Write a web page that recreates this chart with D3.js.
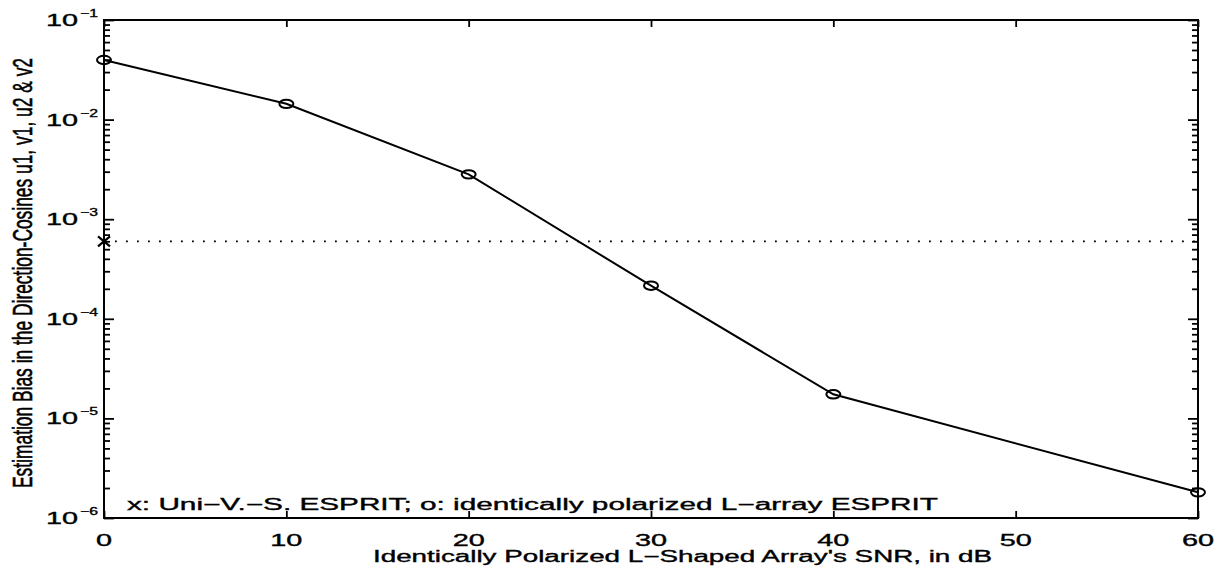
<!DOCTYPE html>
<html>
<head>
<meta charset="utf-8">
<script src="https://cdn.jsdelivr.net/npm/d3@7"></script>
<style>
  html, body { margin: 0; padding: 0; background: #fff; }
  svg { display: block; }
  text { font-family: "Liberation Sans", Arial, Helvetica, sans-serif; fill: #000; stroke: #000; stroke-width: 0.35; }
</style>
</head>
<body>
<svg id="chart" width="1219" height="571"></svg>
<script>
// ---- data ----
const snrDb = [0, 10, 20, 30, 40, 60];
const biasLArray = [0.0397, 0.0144, 0.00282, 2.15e-4, 1.745e-5, 1.81e-6];
const biasUniVS = 6.0e-4;            // x marker + dotted reference
const xTicks = [0, 10, 20, 30, 40, 50, 60];
const yDecades = [1e-6, 1e-5, 1e-4, 1e-3, 1e-2, 1e-1];
const yExponents = ["−6", "−5", "−4", "−3", "−2", "−1"];
const legendText = "x: Uni−V.−S. ESPRIT; o: identically polarized L−array ESPRIT";
const xLabel = "Identically Polarized L−Shaped Array's SNR, in dB";
const yLabel = "Estimation Bias in the Direction-Cosines u1, v1, u2 & v2";

// ---- layout ----
const L = 104, R = 1198, T = 20, B = 518;
const SX = 1.8; // horizontal stretch of the scanned figure

const svg = d3.select("#chart");
const x = d3.scaleLinear().domain([0, 60]).range([L, R]);
const y = d3.scaleLog().domain([1e-6, 1e-1]).range([B, T]);

// minor ticks
const yMinor = [];
for (let k = -6; k < -1; k++) {
  for (let m = 2; m <= 9; m++) yMinor.push(m * Math.pow(10, k));
}

// ---- axes (ticks inward) ----
function styleAxis(g) {
  g.select(".domain").remove();
  g.selectAll(".tick line").attr("stroke", "#000").attr("stroke-width", 1.8);
  g.selectAll(".tick text").remove();
}
svg.append("g").attr("transform", `translate(${L},0)`)
  .call(d3.axisLeft(y).tickValues(yDecades).tickSize(-10).tickFormat("")).call(styleAxis);
svg.append("g").attr("transform", `translate(${L},0)`)
  .call(d3.axisLeft(y).tickValues(yMinor).tickSize(-6).tickFormat("")).call(styleAxis);
svg.append("g").attr("transform", `translate(${R},0)`)
  .call(d3.axisRight(y).tickValues(yDecades).tickSize(-10).tickFormat("")).call(styleAxis);
svg.append("g").attr("transform", `translate(${R},0)`)
  .call(d3.axisRight(y).tickValues(yMinor).tickSize(-6).tickFormat("")).call(styleAxis);
svg.append("g").attr("transform", `translate(0,${B})`)
  .call(d3.axisBottom(x).tickValues(xTicks).tickSize(-7).tickFormat("")).call(styleAxis);
svg.append("g").attr("transform", `translate(0,${T})`)
  .call(d3.axisTop(x).tickValues(xTicks).tickSize(-7).tickFormat("")).call(styleAxis);

// frame
svg.append("rect").attr("x", L).attr("y", T).attr("width", R - L).attr("height", B - T)
  .attr("fill", "none").attr("stroke", "#000").attr("stroke-width", 2);

// ---- y tick labels 10^k ----
yDecades.forEach((v, i) => {
  const yy = y(v);
  svg.append("text").attr("text-anchor", "end").attr("font-size", 16)
    .attr("transform", `translate(78,${yy + 6}) scale(${SX},1)`).text("10");
  svg.append("text").attr("text-anchor", "start").attr("font-size", 10.5)
    .attr("transform", `translate(80,${yy - 3}) scale(1.5,1)`).text(yExponents[i]);
});

// ---- x tick labels ----
xTicks.forEach(v => {
  svg.append("text").attr("text-anchor", "middle").attr("font-size", 16)
    .attr("transform", `translate(${x(v)},546) scale(${SX},1)`).text(v);
});

// ---- axis labels ----
svg.append("text").attr("font-size", 16)
  .attr("x", 373).attr("y", 562)
  .attr("textLength", 619).attr("lengthAdjust", "spacingAndGlyphs")
  .text(xLabel);

svg.append("text").attr("text-anchor", "middle").attr("font-size", 16)
  .attr("transform", `translate(32,273) scale(1.7,1) rotate(-90)`)
  .attr("textLength", 430).attr("lengthAdjust", "spacingAndGlyphs")
  .text(yLabel);

// ---- legend text ----
svg.append("text").attr("font-size", 16)
  .attr("x", 127).attr("y", 510)
  .attr("textLength", 811).attr("lengthAdjust", "spacingAndGlyphs")
  .text(legendText);

// ---- dotted reference line ----
svg.append("line")
  .attr("x1", x(0)).attr("x2", x(60))
  .attr("y1", y(biasUniVS)).attr("y2", y(biasUniVS))
  .attr("stroke", "#000").attr("stroke-width", 1.8)
  .attr("stroke-dasharray", "1.8,9.2");

// x marker
const mx = x(0), my = y(biasUniVS);
svg.append("path")
  .attr("d", `M${mx - 6},${my - 5}L${mx + 6},${my + 5}M${mx - 6},${my + 5}L${mx + 6},${my - 5}`)
  .attr("stroke", "#000").attr("stroke-width", 2.2).attr("fill", "none");

// ---- main series ----
const pts = snrDb.map((s, i) => [s, biasLArray[i]]);
svg.append("path")
  .datum(pts)
  .attr("d", d3.line().x(d => x(d[0])).y(d => y(d[1])))
  .attr("fill", "none").attr("stroke", "#000").attr("stroke-width", 2);

svg.selectAll("ellipse.mk").data(pts).enter().append("ellipse")
  .attr("class", "mk")
  .attr("cx", d => x(d[0])).attr("cy", d => y(d[1]))
  .attr("rx", 7).attr("ry", 4.2)
  .attr("fill", "none").attr("stroke", "#000").attr("stroke-width", 2);
</script>
</body>
</html>
